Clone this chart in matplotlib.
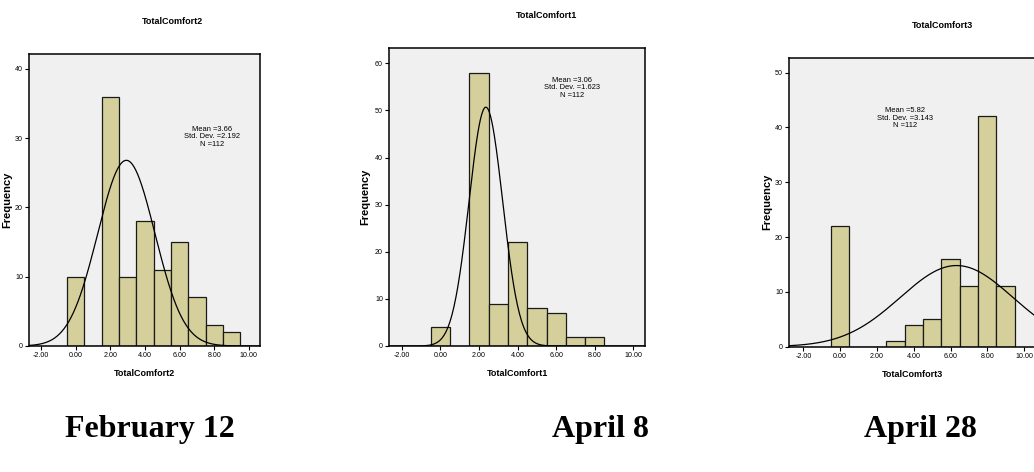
import numpy as np
import matplotlib
matplotlib.use("Agg")
import matplotlib.pyplot as plt
from matplotlib import font_manager

# histogram data (bin centre -> frequency)
feb_values = [0, 1, 2, 3, 4, 5, 6, 7, 8, 9]
feb_counts = [10, 0, 36, 10, 18, 11, 15, 7, 3, 2]
apr8_values = [0, 1, 2, 3, 4, 5, 6, 7, 8]
apr8_counts = [4, 0, 58, 9, 22, 8, 7, 2, 2]
apr28_values = [0, 1, 2, 3, 4, 5, 6, 7, 8, 9]
apr28_counts = [22, 0, 0, 1, 4, 5, 16, 11, 42, 11]

# normal curves as drawn: centre, spread, peak height
feb_curve = (2.93, 1.65, 26.8)
apr8_curve = (2.36, 0.87, 50.7)
apr28_curve = (6.33, 3.07, 14.8)

titles = ["TotalComfort2", "TotalComfort1", "TotalComfort3"]
stats = ["Mean =3.66\nStd. Dev. =2.192\nN =112",
         "Mean =3.06\nStd. Dev. =1.623\nN =112",
         "Mean =5.82\nStd. Dev. =3.143\nN =112"]
dates = ["February 12", "April 8", "April 28"]
xticks = [-2, 0, 2, 4, 6, 8, 10]

W, H = 1034, 472

# SPSS uses a narrow Arial; fall back to a slightly smaller regular Arial-like font
installed = {f.name for f in font_manager.fontManager.ttflist}
if "Liberation Sans Narrow" in installed:
    narrow, nscale = ["Liberation Sans Narrow", "DejaVu Sans"], 1.0
else:
    narrow, nscale = ["Liberation Sans", "DejaVu Sans"], 0.93
sans = ["Liberation Sans", "DejaVu Sans"]

fig = plt.figure(figsize=(W / 100, H / 100), dpi=100)
fig.patch.set_facecolor("white")


def px_axes(left, top, right, bottom):
    return fig.add_axes([left / W, 1 - bottom / H, (right - left) / W, (bottom - top) / H])


panels = [
    dict(box=(29.3, 54.3, 260.3, 346), xlim=(-2.67, 10.66), ylim=42.1, yticks=[0, 10, 20, 30, 40],
         vals=feb_values, counts=feb_counts, curve=feb_curve, text_at=(7.86, 30.2),
         title_xy=(172, 21), date_x=150, ylab_x=12),
    dict(box=(389.3, 48.3, 645, 346), xlim=(-2.64, 10.6), ylim=63.2, yticks=[0, 10, 20, 30, 40, 50, 60],
         vals=apr8_values, counts=apr8_counts, curve=apr8_curve, text_at=(6.84, 54.8),
         title_xy=(547, 15), date_x=600, ylab_x=370),
    dict(box=(789.3, 57.7, 1036, 346.7), xlim=(-2.77, 10.65), ylim=52.7, yticks=[0, 10, 20, 30, 40, 50],
         vals=apr28_values, counts=apr28_counts, curve=apr28_curve, text_at=(3.52, 41.7),
         title_xy=(942, 25), date_x=920, ylab_x=772),
]

for i, p in enumerate(panels):
    left, top, right, bottom = p["box"]
    ax = px_axes(left, top, right, bottom)
    ax.set_facecolor("#f0f0f0")
    ax.bar(p["vals"], p["counts"], width=1.0, color="#d4cf9b", edgecolor="#1a1a1a", linewidth=0.9, zorder=2)
    mu, sd, peak = p["curve"]
    xs = np.linspace(p["xlim"][0], p["xlim"][1], 400)
    ax.plot(xs, peak * np.exp(-0.5 * ((xs - mu) / sd) ** 2), color="black", lw=0.9, zorder=3)
    ax.set_xlim(*p["xlim"])
    ax.set_ylim(0, p["ylim"])
    ax.set_xticks(xticks)
    ax.set_xticklabels(["%.2f" % t for t in xticks], family=narrow, fontsize=5.5 * nscale)
    ax.set_yticks(p["yticks"])
    ax.set_yticklabels([str(t) for t in p["yticks"]], family=narrow, fontsize=5.5 * nscale)
    ax.tick_params(length=3, width=0.8, pad=1.5, color="black")
    for s in ax.spines.values():
        s.set_linewidth(1.1)
    ax.set_xlabel(titles[i], family=narrow, fontsize=7 * nscale, fontweight="bold", labelpad=7)
    ax.set_ylabel("Frequency", family=sans, fontsize=8, fontweight="bold")
    ax.yaxis.set_label_coords((p["ylab_x"] - left) / (right - left), 0.5)
    ax.text(p["text_at"][0], p["text_at"][1], stats[i], family=narrow, fontsize=5.8 * nscale,
            ha="center", va="center", linespacing=1.05)
    tx, ty = p["title_xy"]
    fig.text(tx / W, 1 - ty / H, titles[i], family=narrow, fontsize=7 * nscale, fontweight="bold",
             ha="center", va="center")
    fig.text(p["date_x"] / W, 1 - 437 / H, dates[i], family=["Liberation Serif", "DejaVu Serif"],
             fontsize=23, fontweight="bold", ha="center", va="baseline")

fig.savefig("out.png", dpi=100)
